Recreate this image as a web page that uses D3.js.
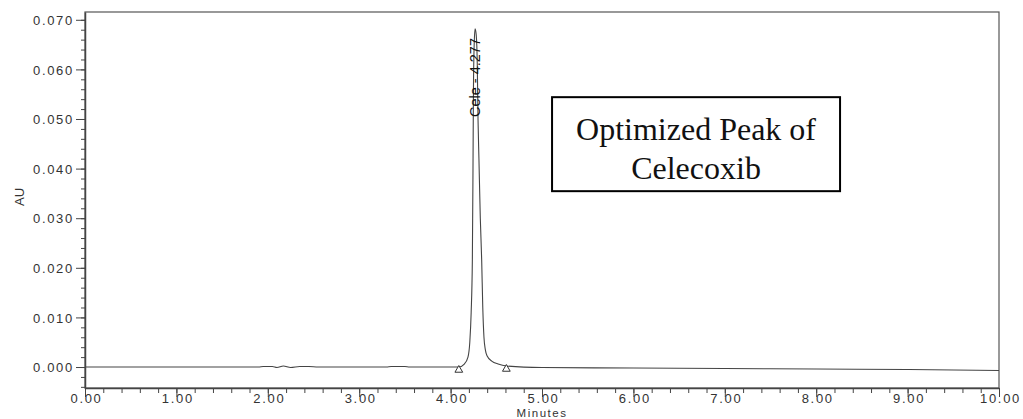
<!DOCTYPE html>
<html>
<head>
<meta charset="utf-8">
<script src="https://cdn.jsdelivr.net/npm/d3@7"></script>
<style>
  body { margin: 0; background: #fff; }
  svg { display: block; }
</style>
</head>
<body>
<div id="chart"></div>
<script>
// chromatogram trace: minutes / AU
var times = [0.00, 1.90, 1.95, 2.05, 2.10, 2.17, 2.25, 2.35, 2.45, 2.55, 3.00, 3.30, 3.35, 3.50, 3.55, 4.00,
    4.09, 4.15, 4.19, 4.21, 4.225, 4.238, 4.245, 4.250, 4.258, 4.268, 4.280, 4.292, 4.300, 4.310, 4.325,
    4.340, 4.352, 4.365, 4.38, 4.40, 4.45, 4.52, 4.61, 5.00, 6.00, 7.00, 8.00, 9.00, 10.00];
var signal = [0.0000, 0.0000, 0.0001, 0.0001, -0.0001, 0.0002, -0.0001, 0.0001, 0.0001, 0.0000, 0.0000, 0.0000, 0.0001, 0.0001, 0.0000, 0.0000,
    0.0000, 0.0006, 0.0020, 0.0050, 0.0110, 0.0216, 0.0400, 0.0560, 0.0650, 0.0682, 0.0670, 0.0610, 0.0500, 0.0420, 0.0300,
    0.0216, 0.0120, 0.0060, 0.0035, 0.0022, 0.0012, 0.0006, 0.0002, -0.0001, -0.0002, -0.0003, -0.0004, -0.0005, -0.0007];

// integration start/end markers
var markerTimes = [4.09, 4.61];
var markerValues = [-0.0006, -0.0004];

var peakLabels = ["Cele - 4.277"];
var peakTimes = [4.277];

var xTicks = [0, 1, 2, 3, 4, 5, 6, 7, 8, 9, 10];
var yTicks = [0.000, 0.010, 0.020, 0.030, 0.040, 0.050, 0.060, 0.070];

var boxLines = ["Optimized Peak of", "Celecoxib"];

var W = 1023, H = 419;
var margin = { top: 12, right: 24, bottom: 31, left: 85 },
    width = W - margin.left - margin.right,
    height = H - margin.top - margin.bottom;

var svg = d3.select("#chart")
    .append("svg")
    .attr("width", W)
    .attr("height", H);

var g = svg.append("g")
    .attr("transform", "translate(" + margin.left + "," + margin.top + ")");

var x = d3.scaleLinear().domain([0, 10]).range([0, width]);
var y = d3.scaleLinear().domain([-0.00423, 0.07157]).range([height, 0]);

var tickFont = "'Liberation Sans', Arial, sans-serif";

// frame
g.append("rect")
    .attr("x", 0).attr("y", 0)
    .attr("width", width).attr("height", height)
    .attr("fill", "none")
    .attr("stroke", "#555")
    .attr("stroke-width", 1.2);

// minor ticks
var minorX = d3.range(0, 10.001, 0.2);
var minorY = d3.range(-0.004, 0.0715, 0.002);

g.append("g")
    .attr("transform", "translate(0," + height + ")")
    .call(d3.axisBottom(x).tickValues(minorX).tickSize(5).tickSizeOuter(0).tickFormat(""))
    .call(function (a) { a.select(".domain").remove(); a.selectAll("line").attr("stroke", "#444"); });

g.append("g")
    .call(d3.axisLeft(y).tickValues(minorY).tickSize(4).tickSizeOuter(0).tickFormat(""))
    .call(function (a) { a.select(".domain").remove(); a.selectAll("line").attr("stroke", "#444"); });

// major axes
var xAxis = g.append("g")
    .attr("transform", "translate(0," + height + ")")
    .call(d3.axisBottom(x).tickValues(xTicks).tickSize(9).tickSizeOuter(0).tickFormat(d3.format(".2f")));

var yAxis = g.append("g")
    .call(d3.axisLeft(y).tickValues(yTicks).tickSize(9).tickSizeOuter(0).tickFormat(d3.format(".3f")));

[xAxis, yAxis].forEach(function (a) {
    a.select(".domain").attr("stroke", "#444").attr("stroke-width", 1.5);
    a.selectAll(".tick line").attr("stroke", "#444");
    a.selectAll(".tick text")
        .style("font-family", tickFont)
        .style("font-size", "13px")
        .style("letter-spacing", "1.7px")
        .attr("fill", "#333");
});
xAxis.selectAll(".tick text").attr("y", 5.5).attr("dx", "1px");
yAxis.selectAll(".tick text").attr("x", -11).attr("dy", "0.36em");

// axis titles
g.append("text")
    .attr("x", width / 2)
    .attr("y", height + 29)
    .attr("text-anchor", "middle")
    .style("font-family", tickFont)
    .style("font-size", "11.5px")
    .style("letter-spacing", "1.5px")
    .attr("fill", "#333")
    .text("Minutes");

svg.append("text")
    .attr("transform", "translate(24," + (margin.top + 185) + ") rotate(-90)")
    .attr("text-anchor", "middle")
    .style("font-family", tickFont)
    .style("font-size", "13px")
    .attr("fill", "#333")
    .text("AU");

// trace
var traceData = times.map(function (t, i) { return { t: t, v: signal[i] }; });
var line = d3.line()
    .x(function (d) { return x(d.t); })
    .y(function (d) { return y(d.v); })
    .curve(d3.curveMonotoneX);

g.append("path")
    .datum(traceData)
    .attr("d", line)
    .attr("fill", "none")
    .attr("stroke", "#444")
    .attr("stroke-width", 1.1);

// integration markers
g.selectAll(".marker")
    .data(markerTimes)
    .enter()
    .append("path")
    .attr("class", "marker")
    .attr("d", d3.symbol().type(d3.symbolTriangle).size(26))
    .attr("transform", function (d, i) { return "translate(" + x(d) + "," + y(markerValues[i]) + ")"; })
    .attr("fill", "#fff")
    .attr("stroke", "#333")
    .attr("stroke-width", 1);

// peak label
g.selectAll(".peakLabel")
    .data(peakLabels)
    .enter()
    .append("text")
    .attr("class", "peakLabel")
    .attr("transform", function (d, i) { return "translate(" + (x(peakTimes[i]) + 4) + "," + y(0.0504) + ") rotate(-90)"; })
    .style("font-family", tickFont)
    .style("font-size", "14.5px")
    .attr("fill", "#111")
    .text(function (d) { return d; });

// annotation box
var box = g.append("g")
    .attr("transform", "translate(" + x(5.11) + "," + y(0.0544) + ")");
box.append("rect")
    .attr("width", 288).attr("height", 94)
    .attr("fill", "#fff")
    .attr("stroke", "#000")
    .attr("stroke-width", 2);
box.selectAll("text")
    .data(boxLines)
    .enter()
    .append("text")
    .attr("x", 144)
    .attr("y", function (d, i) { return 43 + i * 39; })
    .attr("text-anchor", "middle")
    .style("font-family", "'Liberation Serif', 'Times New Roman', serif")
    .style("font-size", "32px")
    .attr("fill", "#111")
    .text(function (d) { return d; });
</script>
</body>
</html>
